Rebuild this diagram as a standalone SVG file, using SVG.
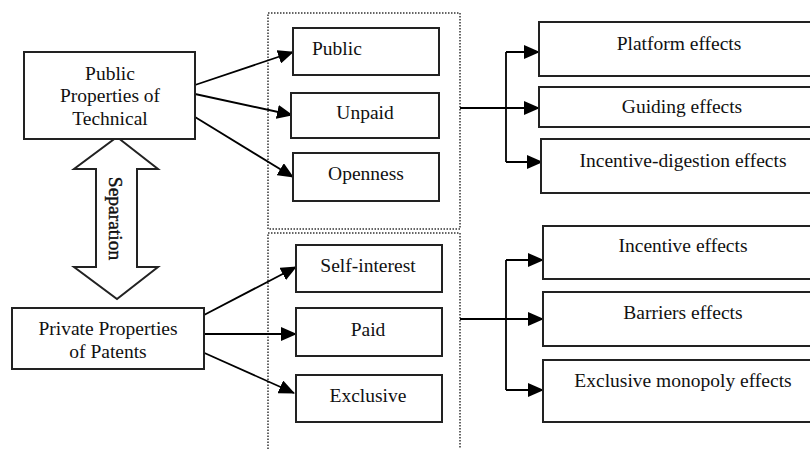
<svg xmlns="http://www.w3.org/2000/svg" width="810" height="449" viewBox="0 0 810 449">
<defs>
<marker id="ah" markerUnits="userSpaceOnUse" markerWidth="16" markerHeight="14" viewBox="0 0 16 14" refX="15" refY="7" orient="auto">
<path d="M0,0 L16,7 L0,14 Z" fill="#000"/>
</marker>
</defs>
<style>
.box{fill:#fff;stroke:#222;stroke-width:2}
.dot{fill:none;stroke:#333;stroke-width:1.5;stroke-dasharray:1.5 1.5}
.c{fill:none;stroke:#000;stroke-width:1.8}
.ca{fill:none;stroke:#000;stroke-width:1.8;marker-end:url(#ah)}
</style>
<rect width="810" height="449" fill="#fff"/>
<g id="group-public">
<rect class="dot" x="268" y="13" width="192" height="216"/>
</g>
<g id="group-private">
<path class="dot" d="M268,449 L268,233 L460,233 L460,449"/>
</g>
<g id="connectors">
<line class="ca" x1="195" y1="85" x2="293" y2="52"/>
<line class="ca" x1="195" y1="94" x2="292" y2="115"/>
<line class="ca" x1="195" y1="117" x2="293" y2="177"/>
<line class="ca" x1="204" y1="315" x2="296" y2="267"/>
<line class="ca" x1="204" y1="334" x2="296" y2="334"/>
<line class="ca" x1="200" y1="351" x2="294" y2="393"/>
<line class="c" x1="460" y1="108" x2="506" y2="108"/>
<line class="c" x1="506" y1="52" x2="506" y2="162"/>
<line class="ca" x1="506" y1="52" x2="539" y2="52"/>
<line class="ca" x1="506" y1="108" x2="539" y2="108"/>
<line class="ca" x1="506" y1="162" x2="542" y2="162"/>
<line class="c" x1="460" y1="319" x2="506" y2="319"/>
<line class="c" x1="506" y1="260" x2="506" y2="390"/>
<line class="ca" x1="506" y1="260" x2="543" y2="260"/>
<line class="ca" x1="506" y1="319" x2="543" y2="319"/>
<line class="ca" x1="506" y1="390" x2="543" y2="390"/>
</g>
<g id="separation">
<path d="M117,137 L158,169 L137,169 L137,267 L158,267 L117,299 L74,267 L96,267 L96,169 L74,169 Z" fill="#fff" stroke="#222" stroke-width="2"/>
<text transform="translate(109,218.5) rotate(90)" font-family="Liberation Serif" font-size="19.5" text-anchor="middle" fill="#111" stroke="#111" stroke-width="0.4">Separation</text>
</g>
<g id="node-public-properties">
<rect class="box" x="24" y="52" width="171" height="87"/>
<text x="110" y="80" font-family="Liberation Serif" font-size="19.5" text-anchor="middle" fill="#111">Public</text>
<text x="110" y="102" font-family="Liberation Serif" font-size="19.5" text-anchor="middle" fill="#111">Properties of</text>
<text x="110" y="125" font-family="Liberation Serif" font-size="19.5" text-anchor="middle" fill="#111">Technical</text>
</g>
<g id="node-private-properties">
<rect class="box" x="12" y="308" width="192" height="61"/>
<text x="108" y="335" font-family="Liberation Serif" font-size="19.5" text-anchor="middle" fill="#111">Private Properties</text>
<text x="108" y="358" font-family="Liberation Serif" font-size="19.5" text-anchor="middle" fill="#111">of Patents</text>
</g>
<g id="node-public">
<rect class="box" x="293" y="28" width="146" height="47"/>
<text x="312" y="55" font-family="Liberation Serif" font-size="19.5" text-anchor="start" fill="#111">Public</text>
</g>
<g id="node-unpaid">
<rect class="box" x="291" y="93" width="148" height="45"/>
<text x="365" y="119" font-family="Liberation Serif" font-size="19.5" text-anchor="middle" fill="#111">Unpaid</text>
</g>
<g id="node-openness">
<rect class="box" x="293" y="153" width="146" height="48"/>
<text x="366" y="180" font-family="Liberation Serif" font-size="19.5" text-anchor="middle" fill="#111">Openness</text>
</g>
<g id="node-self-interest">
<rect class="box" x="296" y="245" width="146" height="47"/>
<text x="368" y="272" font-family="Liberation Serif" font-size="19.5" text-anchor="middle" fill="#111">Self-interest</text>
</g>
<g id="node-paid">
<rect class="box" x="296" y="308" width="146" height="48"/>
<text x="368" y="336" font-family="Liberation Serif" font-size="19.5" text-anchor="middle" fill="#111">Paid</text>
</g>
<g id="node-exclusive">
<rect class="box" x="296" y="375" width="146" height="47"/>
<text x="368" y="402" font-family="Liberation Serif" font-size="19.5" text-anchor="middle" fill="#111">Exclusive</text>
</g>
<g id="node-platform">
<rect class="box" x="539" y="22" width="275" height="54"/>
<text x="679" y="50" font-family="Liberation Serif" font-size="19.5" text-anchor="middle" fill="#111">Platform effects</text>
</g>
<g id="node-guiding">
<rect class="box" x="539" y="87" width="275" height="40"/>
<text x="682" y="113" font-family="Liberation Serif" font-size="19.5" text-anchor="middle" fill="#111">Guiding effects</text>
</g>
<g id="node-incentive-digestion">
<rect class="box" x="541" y="139" width="273" height="54"/>
<text x="683" y="167" font-family="Liberation Serif" font-size="19.5" text-anchor="middle" fill="#111">Incentive-digestion effects</text>
</g>
<g id="node-incentive">
<rect class="box" x="543" y="226" width="271" height="53"/>
<text x="683" y="252" font-family="Liberation Serif" font-size="19.5" text-anchor="middle" fill="#111">Incentive effects</text>
</g>
<g id="node-barriers">
<rect class="box" x="543" y="292" width="271" height="54"/>
<text x="683" y="319" font-family="Liberation Serif" font-size="19.5" text-anchor="middle" fill="#111">Barriers effects</text>
</g>
<g id="node-exclusive-monopoly">
<rect class="box" x="543" y="360" width="271" height="62"/>
<text x="683" y="387" font-family="Liberation Serif" font-size="19.5" text-anchor="middle" fill="#111">Exclusive monopoly effects</text>
</g>
</svg>
